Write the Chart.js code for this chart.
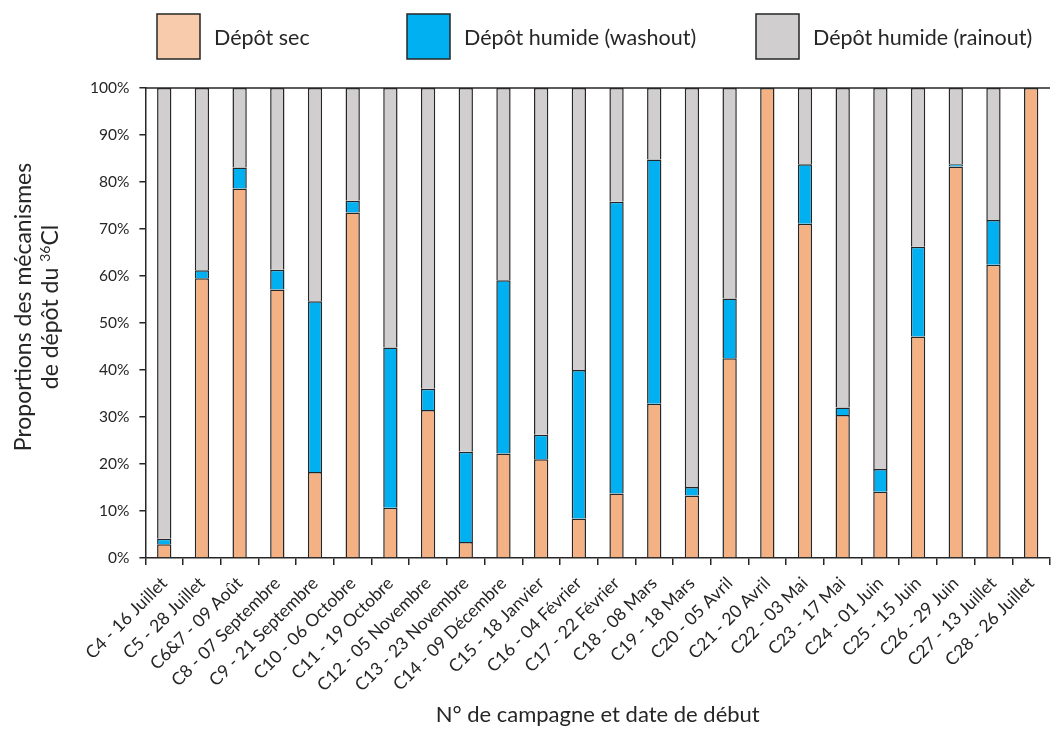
<!DOCTYPE html>
<html>
<head>
<meta charset="utf-8">
<script src="https://cdn.jsdelivr.net/npm/chart.js@4"></script>
<style>
  html, body { margin: 0; padding: 0; background: #fff; }
  canvas { display: block; }
</style>
</head>
<body>
<canvas id="myChart" width="1054" height="736"></canvas>
<script>
// campagnes (N° + date de début)
const campaigns = [
  'C4 - 16 Juillet', 'C5 - 28 Juillet', 'C6&7 - 09 Août', 'C8 - 07 Septembre',
  'C9 - 21 Septembre', 'C10 - 06 Octobre', 'C11 - 19 Octobre', 'C12 - 05 Novembre',
  'C13 - 23 Novembre', 'C14 - 09 Décembre', 'C15 - 18 Janvier', 'C16 - 04 Février',
  'C17 - 22 Février', 'C18 - 08 Mars', 'C19 - 18 Mars', 'C20 - 05 Avril',
  'C21 - 20 Avril', 'C22 - 03 Mai', 'C23 - 17 Mai', 'C24 - 01 Juin',
  'C25 - 15 Juin', 'C26 - 29 Juin', 'C27 - 13 Juillet', 'C28 - 26 Juillet'
]

// proportions en %
const depotSec = [2.9, 59.5, 78.6, 57.1, 18.3, 73.5, 10.7, 31.5, 3.4, 22.2, 21.0, 8.4,
  13.7, 32.8, 13.3, 42.5, 100, 71.1, 30.4, 14.1, 47.1, 83.3, 62.4, 100]
const depotWashout = [1.2, 1.7, 4.5, 4.2, 36.3, 2.5, 34.1, 4.5, 19.2, 36.9, 5.2, 31.6,
  62.1, 52.0, 1.8, 12.7, 0, 12.7, 1.6, 4.8, 19.1, 0.5, 9.5, 0]
const depotRainout = [95.9, 38.8, 16.9, 38.7, 45.4, 24.0, 55.2, 64.0, 77.4, 40.9, 73.8, 60.0,
  24.2, 15.2, 84.9, 44.8, 0, 16.2, 68.0, 81.1, 33.8, 16.2, 28.1, 0]

const FONT = 'Lato'
const TEXT = '#262626'
const EDGE = '#262626'

// legend: Excel spreads the entries over equal slots, so draw it by hand
const legendPlugin = {
  id: 'excelLegend',
  afterDraw(chart) {
    const ctx = chart.ctx
    const slots = [157, 407, 756]
    chart.data.datasets.forEach((ds, i) => {
      const x = slots[i]
      ctx.save()
      ctx.fillStyle = ds.legendColor || ds.backgroundColor
      ctx.fillRect(x, 14, 43, 45)
      ctx.strokeStyle = EDGE
      ctx.lineWidth = 1.5
      ctx.strokeRect(x, 14, 43, 45)
      ctx.fillStyle = TEXT
      ctx.font = '21.5px ' + FONT
      ctx.textBaseline = 'middle'
      ctx.fillText(ds.label, x + 57, 38)
      ctx.restore()
    })
  }
}

// y title on two lines with the 36 as superscript
const yTitlePlugin = {
  id: 'yTitle',
  afterDraw(chart) {
    const ctx = chart.ctx
    ctx.save()
    ctx.fillStyle = TEXT
    ctx.textBaseline = 'middle'
    ctx.translate(0, 307)
    ctx.rotate(-Math.PI / 2)
    ctx.textAlign = 'center'
    ctx.font = '23px ' + FONT
    ctx.fillText('Proportions des mécanismes', 0, 24)

    const a = 'de dépôt du ', sup = '36', b = 'Cl'
    const wa = ctx.measureText(a).width
    const wb = ctx.measureText(b).width
    ctx.font = '14px ' + FONT
    const ws = ctx.measureText(sup).width
    let x = -(wa + ws + wb) / 2
    ctx.textAlign = 'left'
    ctx.font = '23px ' + FONT
    ctx.fillText(a, x, 51)
    x += wa
    ctx.font = '14px ' + FONT
    ctx.fillText(sup, x, 45)
    x += ws
    ctx.font = '23px ' + FONT
    ctx.fillText(b, x, 51)
    ctx.restore()
  }
}

// top line of the plot area
const framePlugin = {
  id: 'frame',
  afterDatasetsDraw(chart) {
    const { ctx, chartArea: a } = chart
    ctx.save()
    ctx.strokeStyle = EDGE
    ctx.lineWidth = 1.5
    ctx.beginPath()
    ctx.moveTo(a.left, a.top)
    ctx.lineTo(a.right, a.top)
    ctx.stroke()
    ctx.restore()
  }
}

new Chart(document.getElementById('myChart'), {
  type: 'bar',
  data: {
    labels: campaigns,
    datasets: [
      { label: 'Dépôt sec', data: depotSec, backgroundColor: '#F4B183', legendColor: '#F8CBAD' },
      { label: 'Dépôt humide (washout)', data: depotWashout, backgroundColor: '#00B0F0' },
      { label: 'Dépôt humide (rainout)', data: depotRainout, backgroundColor: '#D0CECE' },
    ],
  },
  options: {
    responsive: false,
    animation: false,
    layout: { padding: { top: 88, left: 80, right: -9, bottom: 4 } },
    datasets: {
      bar: {
        borderColor: EDGE,
        borderWidth: 1.5,
        categoryPercentage: 1,
        barPercentage: 0.38,
      },
    },
    plugins: {
      legend: { display: false },
      tooltip: { enabled: false },
    },
    scales: {
      x: {
        stacked: true,
        grid: { drawOnChartArea: false, drawTicks: true, tickLength: 7, color: EDGE, lineWidth: 1.5, offset: true },
        border: { color: EDGE, width: 1.5 },
        ticks: { color: TEXT, font: { family: FONT, size: 17.5 }, minRotation: 45, maxRotation: 45, autoSkip: false, padding: 8 },
        title: {
          display: true,
          text: 'N° de campagne et date de début',
          color: TEXT,
          font: { family: FONT, size: 22 },
          padding: { top: -2, bottom: 4 },
        },
      },
      y: {
        stacked: true,
        min: 0,
        max: 100,
        ticks: { stepSize: 10, callback: v => v + '%', color: TEXT, font: { family: FONT, size: 15.5 }, padding: 10 },
        grid: { drawOnChartArea: false, tickLength: 6, color: EDGE, lineWidth: 1.5 },
        border: { color: EDGE, width: 1.5 },
      },
    },
  },
  plugins: [legendPlugin, yTitlePlugin, framePlugin],
})
</script>
</body>
</html>
